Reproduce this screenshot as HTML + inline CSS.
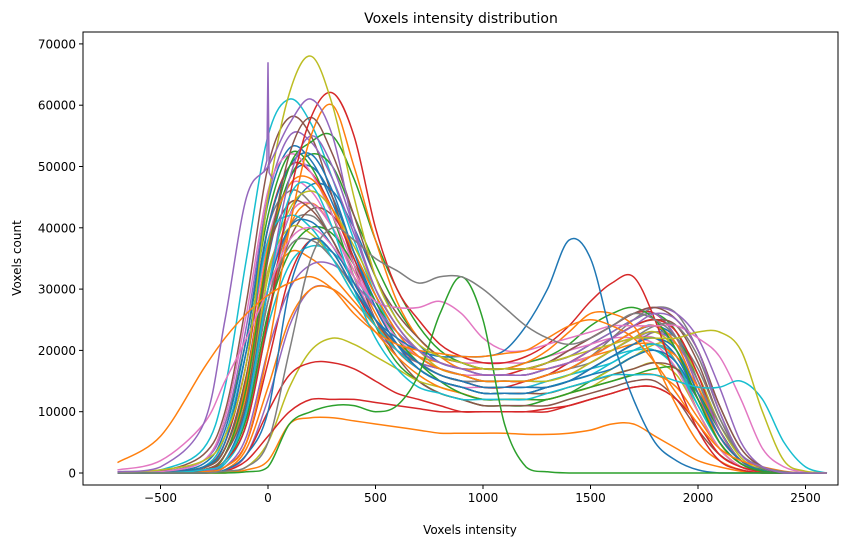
<!DOCTYPE html>
<html><head><meta charset="utf-8"><style>
body{margin:0;background:#fff;font-family:"Liberation Sans","DejaVu Sans",sans-serif}
svg text{font-family:"DejaVu Sans","Liberation Sans",sans-serif}
</style></head><body>
<svg id="chart" width="868" height="547" xmlns="http://www.w3.org/2000/svg">
<text x="461" y="23" text-anchor="middle" font-size="14">Voxels intensity distribution</text>
<text x="470" y="534" text-anchor="middle" font-size="12">Voxels intensity</text>
<text transform="translate(21,258) rotate(-90)" text-anchor="middle" font-size="12">Voxels count</text>
<defs><clipPath id="clip"><rect x="83" y="32" width="755" height="453"/></clipPath></defs>
<g id="lines" clip-path="url(#clip)"></g>
<g id="axes"></g>
</svg>
<script>
const xGrid=[-700,-500,-300,-200,-100,0,100,200,300,400,500,600,700,800,900,1000,1100,1200,1300,1400,1500,1600,1700,1800,1900,2000,2100,2200,2300,2400,2500,2600];
const xTicks=[-500,0,500,1000,1500,2000,2500];
const yTicks=[0,10000,20000,30000,40000,50000,60000,70000];
const g1=[0,0,1,4,15,35,48,50,45,36,28,22,19,17,16,15,15,15,16,17,19,21,23,24,20,12,5,1.5,0.4,0,0,0];
const g2=[0,0,0.5,2,8,25,40,44,40,33,26,20,17,15,14,13,13,13,14,15,17,19,21,22,18,10,4,1,0.2,0,0,0];
const g3=[0,0.2,2,8,22,42,52,50,42,32,24,18,15,13,12,11,11,11,12,13,15,17,19,20,17,10,4,1,0.2,0,0,0];
const g4=[0,0,0.3,1,5,18,32,38,36,30,24,20,18,17,16,16,16,17,18,20,22,24,26,26,22,14,6,2,0.5,0,0,0];
const g5=[0,0,0,0.5,3,12,24,30,30,27,23,20,18,17,16,15,15,15,16,17,19,21,23,24,22,16,8,3,1,0.2,0,0];
const g6=[0,0.3,3,10,28,50,58,55,45,34,25,19,15,13,12,11,11,11,11,12,13,14,15,15,12,7,3,1,0,0,0,0];
const g7=[0,0,1,5,18,38,47,46,40,32,25,20,17,15,14,14,14,14,15,16,18,20,22,22,19,12,5,1.5,0.3,0,0,0];
const g8=[0,0,0.5,2,10,28,40,42,38,31,25,20,18,16,15,15,15,15,16,17,19,22,25,27,26,20,11,4,1,0.2,0,0];
const g9=[0,0,0,0.2,1,5,14,20,22,21,19,17,15,14,13,12,12,12,12,13,14,16,17,18,16,10,4,1,0.2,0,0,0];
const g10=[0,0.5,4,14,35,55,61,57,48,38,29,22,18,16,15,14,14,14,15,16,17,19,20,20,17,11,5,1.5,0.3,0,0,0];
const g11=[0,0,0.5,3,12,30,42,47,46,40,32,25,21,18,17,16,16,16,17,18,19,21,23,24,22,16,8,3,0.7,0,0,0];
const g12=[0,0,0,0.5,4,14,25,30,30,27,23,19,16,14,13,12,12,12,12,13,14,15,16,16,14,9,4,1,0.2,0,0,0];
const g13=[0,0,1,4,16,36,48,52,50,42,34,27,22,19,18,17,17,17,18,19,21,23,25,26,23,15,7,2,0.5,0,0,0];
const g14=[0,0,0,0.5,3,10,16,18,18,17,15,13,12,11,10,10,10,10,10,11,12,13,14,14,12,8,3,1,0.2,0,0,0];
const g15=[0,0.2,2,8,24,45,55,54,48,39,30,24,20,18,17,17,17,17,18,19,21,23,25,26,22,14,6,2,0.4,0,0,0];
const g16=[0,0,0.5,2,9,26,38,43,42,36,29,23,19,17,16,16,16,16,17,18,20,22,24,25,24,18,9,3,0.8,0,0,0];
const h1=[0,0,0.3,2,10,30,42,44,40,33,27,23,20,19,18,18,18,18,19,20,21,22,22,21,17,10,4,1,0.2,0,0,0];
const h2=[0,0,1,6,20,40,46,44,38,31,25,21,18,16,15,14,14,14,14,15,17,19,21,23,22,17,9,3,0.7,0,0,0];
const h3=[0,0,0.5,3,14,33,40,39,35,29,24,20,17,15,14,13,13,13,13,14,15,17,19,21,21,16,8,2.5,0.5,0,0,0];
const h4=[0,0,0.2,1.5,8,24,34,37,36,32,27,22,19,17,16,15,15,15,15,16,17,18,20,21,19,12,5,1.5,0.3,0,0,0];
const h5=[0,0.1,1.5,7,22,44,53,51,44,35,27,21,17,15,14,13,13,13,14,15,17,19,21,22,19,12,5,1.5,0.3,0,0,0];
const h6=[0,0,0.5,3,13,30,36,35,32,28,24,21,19,18,17,17,17,17,17,18,19,20,21,21,19,14,7,2,0.5,0,0,0];
const h7=[0,0,0.3,2,9,26,36,40,39,34,28,22,18,15,13,12,12,12,12,13,14,15,16,17,17,13,7,2,0.5,0,0,0];
const h8=[0,0,1,5,18,40,50,49,43,35,27,21,18,16,15,14,14,15,16,18,20,22,24,25,23,16,7,2,0.4,0,0,0];
const h9=[0,0,0.2,1,6,20,30,34,34,31,27,23,20,18,17,16,16,16,17,18,19,21,22,23,21,15,7,2,0.4,0,0,0];
const h10=[0,0,0.8,4,16,36,44,43,38,31,25,20,17,15,14,13,13,13,13,14,15,16,17,18,17,12,6,2,0.4,0,0,0];
const h11=[0,0.2,2,9,26,46,52,49,42,34,27,22,19,17,16,16,16,16,17,18,19,21,23,24,21,13,5,1.5,0.3,0,0,0];
const h12=[0,0,0.3,2,10,28,37,38,35,30,25,21,18,16,15,15,15,15,16,17,18,20,22,24,24,19,10,3,0.8,0,0,0];
const h13=[0,0,0.5,3,12,32,43,46,43,37,30,24,20,17,16,15,15,15,15,16,18,20,22,23,20,13,6,2,0.4,0,0,0];
const h14=[0,0,1,6,20,38,42,40,35,29,24,20,17,15,14,13,13,13,14,15,16,18,20,21,18,11,5,1.5,0.3,0,0,0];
const h15=[0,0,0.3,2,11,30,40,41,37,31,25,21,18,16,15,14,14,14,14,15,16,17,19,20,18,12,5,1.5,0.3,0,0,0];
const h16=[0,0,0.5,3,15,37,47,48,43,36,29,23,19,17,16,15,15,15,16,17,19,21,23,24,21,13,5,1.5,0.3,0,0,0];
const blueLate=[0,0,0,0.5,3,10,30,38,36,30,25,22,20,19,19,19,20,24,30,38,35,22,12,5,2,0.5,0,0,0,0,0,0];
const orangeWide=[1.7,6,17,22,26,29,31,32,30,26,23,21,20,19.5,19,19,19.5,20,22,24,25,24,22,18,13,8,4,2,1,0.3,0,0];
const greenShort=[0,0,0,0,0.2,1,8,10,11,11,10,11,16,26,32,25,8,1,0.2,0,0,0,0,0,0,0,0,0,0,0,0,0];
const redTall=[0,0,0.5,2,8,25,45,58,62,55,40,30,25,21,19,18,18,19,21,24,28,31,32,25,15,7,2,0.5,0,0,0,0];
const purpleEarly=[0.2,1,8,25,45,50,57,61,55,40,30,24,20,18,17,16,16,16,17,18,20,22,24,26,25,20,10,3,1,0,0,0];
const brownMid=[0,0,0.5,3,12,35,52,58,52,42,32,26,22,19,18,17,17,17,18,20,22,24,26,27,25,20,11,4,1,0,0,0];
const pinkEarly=[0.5,2,8,15,22,30,38,40,37,32,28,27,27,28,26,22,20,20,21,22,23,24,24,24,24,22,19,12,4,1,0.2,0];
const grayPlateau=[0,0,0,0.3,1,5,20,35,40,38,35,33,31,32,32,30,27,24,22,21,22,24,26,25,22,15,8,3,1,0.2,0,0];
const oliveHigh=[0.2,0.5,2,6,18,45,62,68,60,45,32,25,21,19,18,17,17,17,18,19,20,21,22,22,22,23,23,20,10,2,0.3,0];
const cyanLate=[0,0,0.5,2,10,30,45,47,40,30,22,17,14,13,12,12,12,12,13,14,15,16,16,16,15,14,14,15,12,5,1,0];
const blueMid=[0,0,1,5,20,40,50,52,46,36,27,21,17,15,14,13,13,13,14,15,17,19,21,22,20,13,6,2,0.4,0,0,0];
const orangeLow=[0,0,0,0,0.5,2,8,9,9,8.5,8,7.5,7,6.5,6.5,6.5,6.5,6.3,6.3,6.5,7,8,8,6,4,2,1,0.3,0,0,0,0];
const greenMid=[0,0,0.5,3,14,36,50,54,55,48,38,30,24,20,18,17,17,18,19,21,24,26,27,25,20,12,5,1.5,0.3,0,0,0];
const redLow=[0,0,0,0.3,2,6,10,12,12,12,11.5,11,10.5,10,10,10,10,10,10.5,11,12,13,14,14,12,8,3,1,0.2,0,0,0];
const purpleLate=[0,0,0.3,2,10,30,48,55,50,40,30,24,20,18,17,17,17,17,18,20,22,24,26,27,26,22,14,5,1,0.2,0,0];
const orangeHigh2=[0,0,0.2,1,5,20,40,55,60,50,38,28,22,19,17,17,17,18,20,23,26,26,24,18,11,5,2,0.5,0,0,0,0];
const spikeX=[-20,-5,0,5,20];
const spikeY=[49,51,67,49,48];
const seriesList=[g1,g2,g3,g4,g5,g6,g7,g8,g9,g10,g11,g12,g13,g14,g15,g16,h1,h2,h3,h4,h5,h6,h7,h8,h9,h10,h11,h12,h13,h14,h15,h16,orangeLow,redLow,blueMid,greenMid,purpleLate,orangeHigh2,brownMid,redTall,pinkEarly,cyanLate,blueLate,orangeWide,greenShort,grayPlateau,oliveHigh,purpleEarly];
const tab=["#1f77b4","#ff7f0e","#2ca02c","#d62728","#9467bd","#8c564b","#e377c2","#7f7f7f","#bcbd22","#17becf"];
const special=["#ff7f0e","#d62728","#1f77b4","#2ca02c","#9467bd","#ff7f0e","#8c564b","#d62728","#e377c2","#17becf","#1f77b4","#ff7f0e","#2ca02c","#7f7f7f","#bcbd22","#9467bd"];
const L=83,R=838,T=32,B=485;
const xs=v=>268+(v/500)*107.5;
const ys=v=>473-(v/10000)*61.3;
const NS="http://www.w3.org/2000/svg";
const gl=document.getElementById('lines');
function smoothPath(xa,ya){
  const p=xa.map((x,i)=>[xs(x),ys(ya[i]*1000)]);
  let d='M'+p[0][0].toFixed(1)+','+p[0][1].toFixed(1);
  for(let i=0;i<p.length-1;i++){
    const p0=p[i>0?i-1:i],p1=p[i],p2=p[i+1],p3=p[i+2<p.length?i+2:i+1];
    const c1x=p1[0]+(p2[0]-p0[0])/6,c1y=Math.min(473,p1[1]+(p2[1]-p0[1])/6);
    const c2x=p2[0]-(p3[0]-p1[0])/6,c2y=Math.min(473,p2[1]-(p3[1]-p1[1])/6);
    d+='C'+c1x.toFixed(1)+','+c1y.toFixed(1)+' '+c2x.toFixed(1)+','+c2y.toFixed(1)+' '+p2[0].toFixed(1)+','+p2[1].toFixed(1);
  }
  return d;
}
const nGen=seriesList.length-special.length;
seriesList.forEach((s,i)=>{
  const p=document.createElementNS(NS,'path');
  p.setAttribute('d',smoothPath(xGrid,s));
  p.setAttribute('fill','none');
  p.setAttribute('stroke',i<nGen?tab[i%10]:special[i-nGen]);
  p.setAttribute('stroke-width','1.5');
  
  
  gl.appendChild(p);
});
const sp=document.createElementNS(NS,'path');
sp.setAttribute('d',spikeX.map((x,i)=>(i?'L':'M')+xs(x).toFixed(1)+','+ys(spikeY[i]*1000).toFixed(1)).join(''));
sp.setAttribute('fill','none');sp.setAttribute('stroke','#9467bd');sp.setAttribute('stroke-width','1.5');


gl.appendChild(sp);
const ga=document.getElementById('axes');
const fr=document.createElementNS(NS,'rect');
fr.setAttribute('x',L);fr.setAttribute('y',T);fr.setAttribute('width',R-L);fr.setAttribute('height',B-T);
fr.setAttribute('fill','none');fr.setAttribute('stroke','#000');fr.setAttribute('stroke-width','1');


ga.appendChild(fr);
xTicks.forEach(v=>{
  const x=xs(v);
  const l=document.createElementNS(NS,'line');
  l.setAttribute('x1',x);l.setAttribute('x2',x);l.setAttribute('y1',B);l.setAttribute('y2',B+4);l.setAttribute('stroke','#000');
  
  
  ga.appendChild(l);
  const t=document.createElementNS(NS,'text');
  t.setAttribute('x',x);t.setAttribute('y',B+17);t.setAttribute('text-anchor','middle');t.setAttribute('font-size','12');
  t.textContent=v<0?'\u2212'+(-v):String(v);
  
  
  ga.appendChild(t);
});
yTicks.forEach(v=>{
  const y=ys(v);
  const l=document.createElementNS(NS,'line');
  l.setAttribute('x1',L-4);l.setAttribute('x2',L);l.setAttribute('y1',y);l.setAttribute('y2',y);l.setAttribute('stroke','#000');
  
  
  ga.appendChild(l);
  const t=document.createElementNS(NS,'text');
  t.setAttribute('x',L-7);t.setAttribute('y',y+4.5);t.setAttribute('text-anchor','end');t.setAttribute('font-size','12');
  t.textContent=String(v);
  
  
  ga.appendChild(t);
});
</script>
</body></html>
